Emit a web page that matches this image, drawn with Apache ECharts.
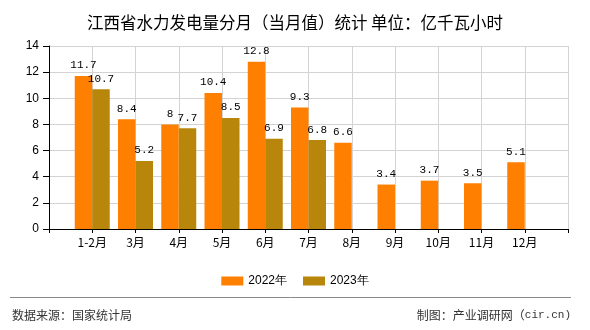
<!DOCTYPE html>
<html>
<head>
<meta charset="utf-8">
<script src="https://cdn.jsdelivr.net/npm/echarts@6/dist/echarts.min.js"></script>
<style>html,body{margin:0;padding:0;background:#fff;}#c{width:590px;height:330px;}</style>
</head>
<body>
<div id="c"></div>
<script>
var titleText = '江西省水力发电量分月（当月值）统计 单位：亿千瓦小时';
var categories = ['1-2月', '3月', '4月', '5月', '6月', '7月', '8月', '9月', '10月', '11月', '12月'];
var seriesNames = ['2022年', '2023年'];
var values2022 = [11.7, 8.4, 8, 10.4, 12.8, 9.3, 6.6, 3.4, 3.7, 3.5, 5.1];
var values2023 = [10.7, 5.2, 7.7, 8.5, 6.9, 6.8];
var yTicks = [0, 2, 4, 6, 8, 10, 12, 14];
var sourceText = '数据来源：国家统计局';
var makerTextCjk = '制图：产业调研网（';
var makerTextLatin = 'cir.cn)';

// pad with an empty slot at each end so categories sit on the grid lines
var cats = [''].concat(categories, ['']);
function pad(arr) {
  var out = [null];
  for (var i = 0; i < categories.length; i++) out.push(i < arr.length ? arr[i] : null);
  out.push(null);
  return out;
}

var chart = echarts.init(document.getElementById('c'), null, {renderer: 'canvas'});
var labelStyle = {
  show: true, position: 'top', distance: 5,
  color: '#000', fontFamily: 'Liberation Mono', fontSize: 11
};
chart.setOption({
  backgroundColor: '#fff',
  animation: false,
  title: {
    text: titleText, left: 'center', top: 9,
    textStyle: {fontFamily: 'Noto Sans CJK SC', fontSize: 16.5, fontWeight: 'normal', color: '#000'}
  },
  legend: {
    data: seriesNames, left: 'center', top: 270,
    itemWidth: 22, itemHeight: 9, itemGap: 16,
    textStyle: {fontFamily: 'Liberation Sans', fontSize: 12, color: '#000'},
    icon: 'rect'
  },
  grid: {left: 49, right: 22, top: 46, bottom: 101, containLabel: false},
  xAxis: {
    type: 'category', data: cats, boundaryGap: false,
    axisLine: {lineStyle: {color: '#000', width: 1}},
    axisTick: {show: true, length: 4, interval: 0, lineStyle: {color: '#000'}},
    axisLabel: {interval: 0, margin: 7, color: '#000', fontFamily: 'Noto Sans CJK SC', fontSize: 12},
    splitLine: {show: true, interval: 0, lineStyle: {color: '#d3d3d3', width: 1}}
  },
  yAxis: {
    type: 'value', min: yTicks[0], max: yTicks[yTicks.length - 1], interval: 2,
    axisLine: {show: true, lineStyle: {color: '#000', width: 1}},
    axisTick: {show: true, length: 6, lineStyle: {color: '#000'}},
    axisLabel: {margin: 10, color: '#000', fontFamily: 'Liberation Sans', fontSize: 12},
    splitLine: {show: true, lineStyle: {color: '#d3d3d3', width: 1}}
  },
  series: [
    {name: seriesNames[0], type: 'bar', data: pad(values2022), barWidth: 17.5, barGap: '0%',
     itemStyle: {color: '#FF8000'}, label: labelStyle},
    {name: seriesNames[1], type: 'bar', data: pad(values2023), barWidth: 17.5, barGap: '0%',
     itemStyle: {color: '#B8860B'}, label: labelStyle}
  ],
  graphic: [
    {type: 'line', shape: {x1: 10, y1: 297.5, x2: 571, y2: 297.5}, style: {stroke: '#888', lineWidth: 1}},
    {type: 'text', left: 12, top: 309, style: {text: sourceText, fontFamily: 'Noto Sans CJK SC', fontSize: 12, fill: '#333'}},
    {type: 'text', right: 19, top: 309, style: {
      text: '{a|' + makerTextCjk + '}{b|' + makerTextLatin + '}',
      rich: {
        a: {fontFamily: 'Noto Sans CJK SC', fontSize: 12, fill: '#333', color: '#333'},
        b: {fontFamily: 'Liberation Mono', fontSize: 11, fill: '#333', color: '#333'}
      }
    }}
  ]
});
</script>
</body>
</html>
